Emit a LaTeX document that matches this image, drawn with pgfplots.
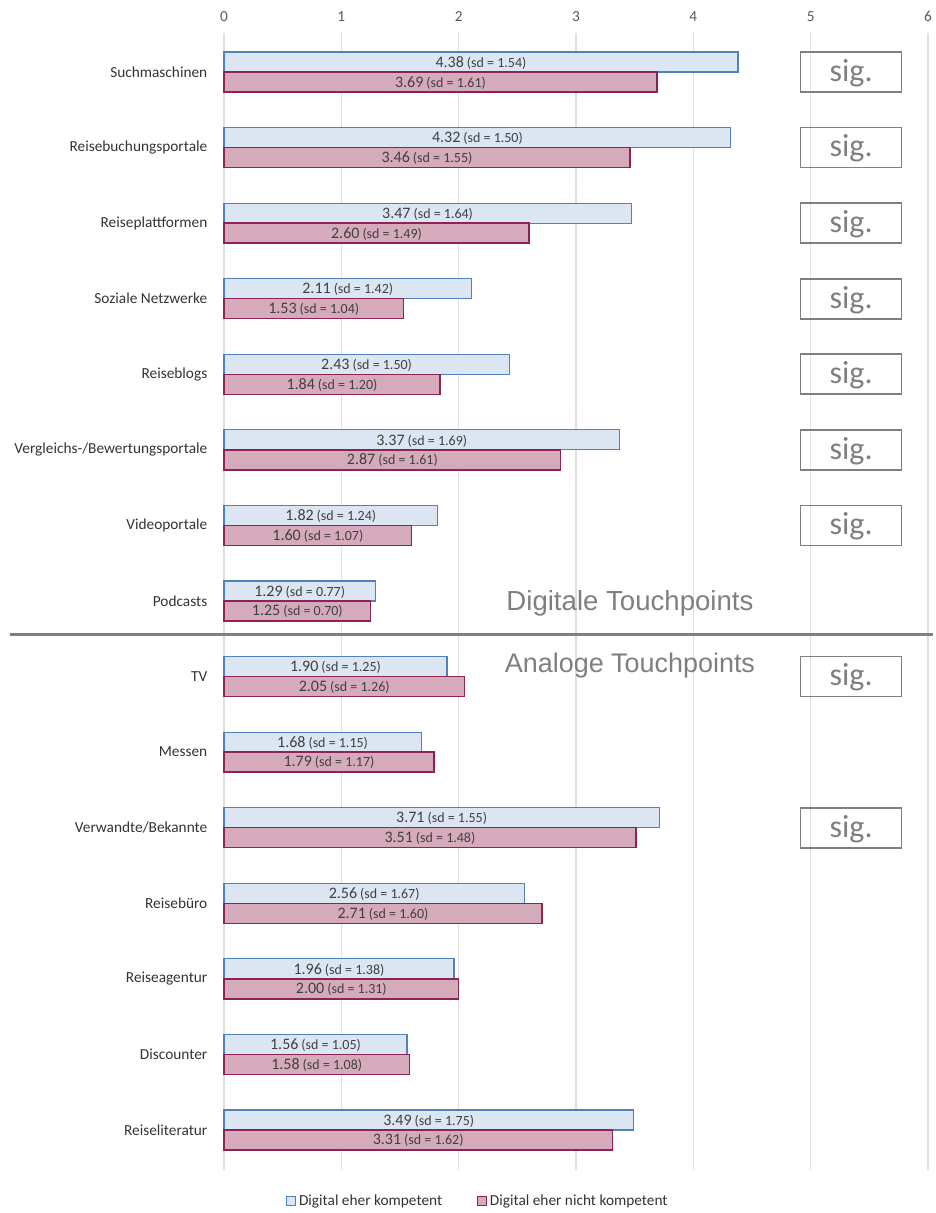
\documentclass[border=0pt]{standalone}
\usepackage{pgfplots}
\pgfplotsset{compat=1.18}
\usepackage{pgfplotstable}
\usepackage{fontspec}
\setmainfont{Carlito}
\newfontfamily\arialfont{Liberation Sans}

\definecolor{bluefill}{RGB}{220,230,242}
\definecolor{blueline}{RGB}{79,129,189}
\definecolor{pinkfill}{RGB}{213,170,187}
\definecolor{pinkline}{RGB}{140,35,85}
\definecolor{txtgray}{RGB}{127,127,127}
\definecolor{lblgray}{RGB}{64,64,64}

% y = row from top; a/asd = digital eher kompetent, b/bsd = digital eher nicht kompetent
\pgfplotstableread{
y a asd b bsd
0 4.38 1.54 3.69 1.61
1 4.32 1.50 3.46 1.55
2 3.47 1.64 2.60 1.49
3 2.11 1.42 1.53 1.04
4 2.43 1.50 1.84 1.20
5 3.37 1.69 2.87 1.61
6 1.82 1.24 1.60 1.07
7 1.29 0.77 1.25 0.70
8 1.90 1.25 2.05 1.26
9 1.68 1.15 1.79 1.17
10 3.71 1.55 3.51 1.48
11 2.56 1.67 2.71 1.60
12 1.96 1.38 2.00 1.31
13 1.56 1.05 1.58 1.08
14 3.49 1.75 3.31 1.62
}\touch

\newcommand{\fmt}[1]{\pgfmathprintnumber[fixed,fixed zerofill,precision=2,assume math mode=true]{#1}}
\newcommand{\barlabel}[2]{{\fontsize{12}{12}\selectfont\fmt{#1}} {\fontsize{10.5}{10.5}\selectfont(sd = \fmt{#2})}}

\begin{document}
\begin{tikzpicture}
\path[use as bounding box] (0,0) rectangle (701.25pt,-909.75pt);
\begin{axis}[
  at={(168pt,-877.5pt)}, anchor=south west,
  scale only axis, width=528pt, height=852.75pt,
  xmin=0, xmax=6, ymin=-0.516, ymax=14.53,
  y dir=reverse,
  clip=false,
  axis line style={draw=none},
  major tick length=0pt,
  xtick={0,...,6},
  xticklabel pos=upper,
  xmajorgrids,
  major grid style={draw=black!12, line width=1pt},
  ytick={0,...,14},
  yticklabels={Suchmaschinen, Reisebuchungsportale, Reiseplattformen, Soziale Netzwerke, Reiseblogs, Vergleichs-/Bewertungsportale, Videoportale, Podcasts, TV, Messen, Verwandte/Bekannte, Reisebüro, Reiseagentur, Discounter, Reiseliteratur},
  tick label style={font=\fontsize{11.5}{12}\selectfont, text=black!80},
  /pgf/number format/assume math mode=true,
  xticklabel style={yshift=5pt, text=black!65},
  yticklabel style={xshift=-9pt},
  legend style={at={(0.361,-0.027)}, anchor=center, draw=none, fill=none,
    legend columns=2, font=\fontsize{11.5}{12}\selectfont, text=black!80,
    /tikz/every even column/.append style={column sep=24pt}},
  legend image code/.code={\draw[#1, line width=0.8pt] (0pt,-3.5pt) rectangle (7pt,3.5pt);},
]
\addplot[xbar, bar width=0.265, bar shift=-0.1325, fill=bluefill, draw=blueline, line width=0.9pt]
  table[x=a, y=y]{\touch};
\addplot[xbar, bar width=0.265, bar shift=0.1325, fill=pinkfill, draw=pinkline, line width=1.1pt]
  table[x=b, y=y]{\touch};
\legend{Digital eher kompetent, Digital eher nicht kompetent}

\addplot[draw=none, mark=none, forget plot,
  point meta=\thisrow{a},
  visualization depends on={\thisrow{asd}\as\sdA},
  nodes near coords={\barlabel{\pgfplotspointmeta}{\sdA}},
  every node near coord/.append style={anchor=center, text=lblgray, inner sep=0pt}]
  table[x expr=\thisrow{a}/2, y expr=\thisrow{y}-0.12]{\touch};
\addplot[draw=none, mark=none, forget plot,
  point meta=\thisrow{b},
  visualization depends on={\thisrow{bsd}\as\sdB},
  nodes near coords={\barlabel{\pgfplotspointmeta}{\sdB}},
  every node near coord/.append style={anchor=center, text=lblgray, inner sep=0pt}]
  table[x expr=\thisrow{b}/2, y expr=\thisrow{y}+0.14]{\touch};

\pgfplotsinvokeforeach{0,1,2,3,4,5,6,8,10}{
  \node[draw=txtgray, line width=1.2pt, minimum width=75.75pt, minimum height=30pt,
    inner sep=0pt, text=txtgray, font=\fontsize{24}{24}\selectfont,
    text height=20pt, text depth=6pt]
    at (axis cs:5.345,#1) {sig.};
}
\node[text=txtgray, font=\arialfont\fontsize{20.7}{22}\selectfont] at (axis cs:3.46,7.03) {Digitale Touchpoints};
\node[text=txtgray, font=\arialfont\fontsize{20.2}{22}\selectfont] at (axis cs:3.46,7.86) {Analoge Touchpoints};
\end{axis}
\draw[txtgray, line width=2.25pt] (7.5pt,-475.5pt) -- (699.75pt,-475.5pt);
\end{tikzpicture}
\end{document}
